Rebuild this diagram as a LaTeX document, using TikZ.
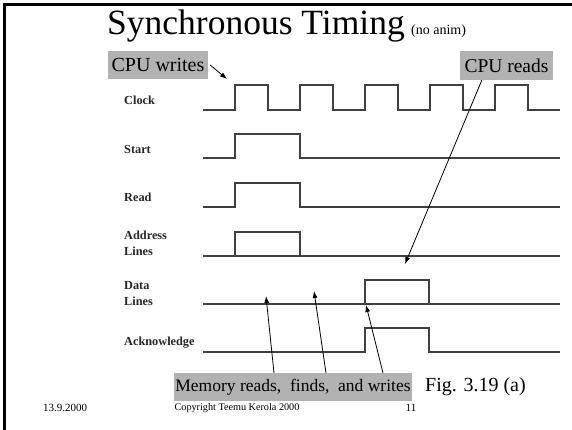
\documentclass[tikz,border=0pt]{standalone}
\usepackage{fontspec}
\setmainfont{Liberation Serif}
\usetikzlibrary{arrows.meta}
\begin{document}
\begin{tikzpicture}[x=1pt,y=-1pt,
  wave/.style={line width=1.6pt, draw=black!75, line join=miter},
  frame/.style={line width=2.5pt, draw=black},
  callout/.style={fill=black!30, inner sep=0pt},
  sig/.style={font=\fontsize{12.3}{16}\selectfont\bfseries, anchor=west, align=left, inner sep=0pt, text=black!85},
  ptr/.style={line width=0.8pt, -{Latex[length=7pt,width=5pt]}},
  foot/.style={inner sep=0pt}]
\useasboundingbox (0,0) rectangle (572,430);
% slide frame
\draw[frame] (4.3,430) -- (4.3,4.3) -- (572,4.3);

% title
\node[anchor=base west, inner sep=0pt, font=\fontsize{35.5}{38}\selectfont] (title) at (107,35) {Synchronous Timing};
\node[anchor=base west, inner sep=0pt, font=\fontsize{14}{15}\selectfont] (noanim) at ([xshift=6pt]title.base east) {(no anim)};

% callout boxes
\node[callout, minimum width=100pt, minimum height=28pt, font=\fontsize{20}{22}\selectfont] (cw) at (158,65) {CPU writes};
\node[callout, minimum width=93pt, minimum height=29pt, font=\fontsize{19.5}{22}\selectfont] (cr) at (506.5,65.5) {CPU reads};
\node[callout, minimum width=238pt, minimum height=28pt, font=\fontsize{17.5}{20}\selectfont] (mem) at (293,387) {Memory reads,\ \ finds,\ \ and writes};
\node[anchor=west, inner sep=0pt, font=\fontsize{20}{22}\selectfont] (fig) at (425,387) {Fig. 3.19 (a)};

% signal names
\node[sig] (lclk) at (124,100) {Clock};
\node[sig] (lstart) at (124,149) {Start};
\node[sig] (lread) at (124,197) {Read};
\node[sig] (laddr) at (124,243) {Address\\Lines};
\node[sig] (ldata) at (124,294) {Data\\Lines};
\node[sig] (lack) at (124,343) {Acknowledge};

% waveforms
\draw[wave] (203,110) -- (235,110) -- (235,85) -- (268,85) -- (268,110) -- (300,110) -- (300,85)
  -- (333,85) -- (333,110) -- (365,110) -- (365,85) -- (398,85) -- (398,110) -- (430,110)
  -- (430,85) -- (463,85) -- (463,110) -- (495,110) -- (495,85) -- (528,85) -- (528,110) -- (560,110);
\draw[wave] (203,158) -- (235,158) -- (235,134) -- (300,134) -- (300,158) -- (560,158);
\draw[wave] (203,207) -- (235,207) -- (235,183) -- (300,183) -- (300,207) -- (560,207);
\draw[wave] (203,256) -- (560,256);
\draw[wave] (235,256) -- (235,232) -- (300,232) -- (300,256);
\draw[wave] (203,304) -- (560,304);
\draw[wave] (365,304) -- (365,280) -- (429,280) -- (429,304);
\draw[wave] (203,352) -- (365,352) -- (365,328) -- (429,328) -- (429,352) -- (560,352);

% pointers
\coordinate (cwtip) at (227,79);
\coordinate (crtip) at (405,264);
\coordinate (m1) at (274,373);
\coordinate (m2) at (326,373);
\coordinate (m3) at (383,373);
\coordinate (t1) at (266,296);
\coordinate (t2) at (314,291);
\coordinate (t3) at (366,305);
\draw[ptr] ([xshift=2pt]cw.east) -- (cwtip);
\draw[ptr] ([xshift=22pt]cr.south west) -- (crtip);
\draw[ptr] (m1) -- (t1);
\draw[ptr] (m2) -- (t2);
\draw[ptr] (m3) -- (t3);

% footer
\node[foot, font=\fontsize{11}{12}\selectfont] (date) at (65,408) {13.9.2000};
\node[foot, font=\fontsize{10.2}{12}\selectfont] (copy) at (237,408) {Copyright Teemu Kerola 2000};
\node[foot, font=\fontsize{11}{12}\selectfont] (page) at (411,408) {11};
\end{tikzpicture}
\end{document}
